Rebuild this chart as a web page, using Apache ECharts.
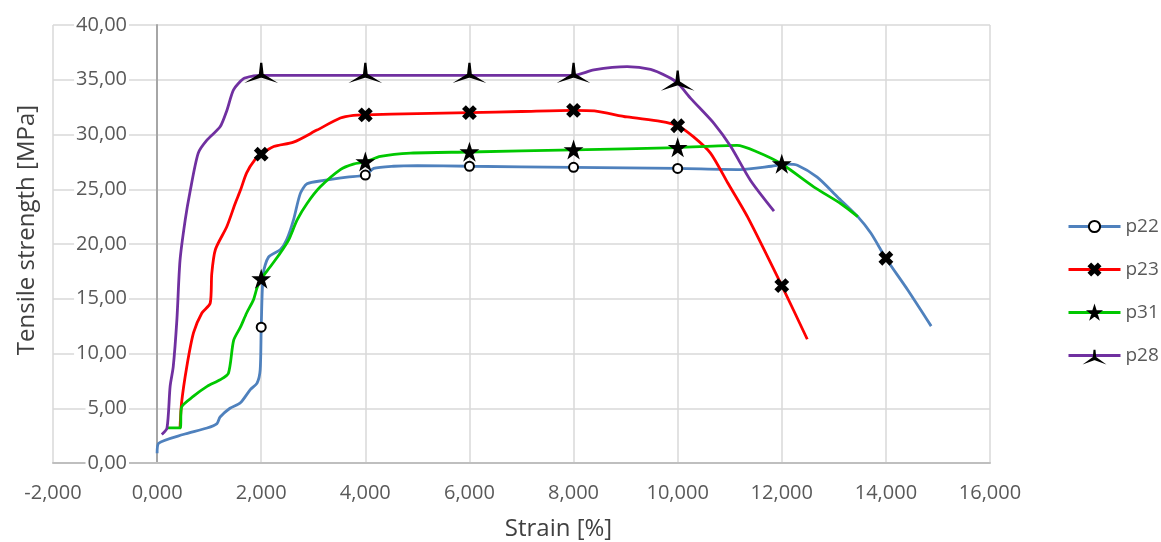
<!DOCTYPE html>
<html lang="en">
<head>
    <meta charset="UTF-8">
    <title>Tensile strength vs strain</title>
    <script src="https://cdn.jsdelivr.net/npm/echarts@6/dist/echarts.min.js"></script>
    <style>
        html, body {
            margin: 0;
            padding: 0;
            background: #ffffff;
        }
        #chart {
            width: 1161px;
            height: 542px;
        }
    </style>
</head>
<body>
<div id="chart"></div>
<script>
    // curves, strain [%] / tensile strength [MPa]
    var p22X = [0, 0.03, 0.5, 0.96, 1.15, 1.21, 1.4, 1.6, 1.79, 1.92, 1.98, 2.0, 2.04, 2.14, 2.37, 2.49, 2.62, 2.75, 2.88, 3.2, 3.65, 4.0, 4.16, 4.54, 5.0, 6.0, 8.0, 10.0, 11.2, 11.8, 12.1, 12.3, 12.68, 13.07, 13.46, 13.71, 14.0, 14.42, 14.87];
    var p22Y = [0.9, 1.8, 2.6, 3.2, 3.6, 4.2, 5.0, 5.5, 6.7, 7.3, 8.5, 12.4, 17.3, 18.8, 19.5, 20.4, 22.2, 24.6, 25.5, 25.8, 26.1, 26.3, 26.9, 27.1, 27.15, 27.1, 27.0, 26.9, 26.8, 27.1, 27.3, 27.2, 26.1, 24.3, 22.5, 21.0, 18.7, 15.8, 12.5];

    var p23X = [0.44, 0.47, 0.57, 0.7, 0.86, 1.02, 1.05, 1.12, 1.34, 1.5, 1.6, 1.72, 1.88, 2.0, 2.24, 2.62, 3.07, 3.52, 3.77, 4.0, 5.0, 6.0, 7.0, 8.0, 8.4, 9.03, 9.67, 10.0, 10.3, 10.63, 10.96, 11.34, 12.0, 12.49];
    var p23Y = [3.2, 5.5, 8.8, 11.9, 13.7, 14.6, 17.3, 19.5, 21.6, 23.7, 24.9, 26.5, 27.7, 28.2, 28.9, 29.3, 30.4, 31.5, 31.75, 31.8, 31.9, 32.0, 32.1, 32.2, 32.15, 31.6, 31.2, 30.8, 29.8, 28.3, 25.6, 22.5, 16.2, 11.3];

    var p31X = [0.19, 0.44, 0.47, 0.7, 0.96, 1.21, 1.37, 1.47, 1.6, 1.72, 1.85, 1.92, 2.0, 2.17, 2.37, 2.53, 2.69, 2.88, 3.13, 3.52, 3.77, 4.0, 4.29, 4.87, 6.0, 8.0, 10.0, 11.14, 11.53, 12.0, 12.62, 13.13, 13.46];
    var p31Y = [3.2, 3.2, 5.1, 6.1, 7.0, 7.6, 8.2, 11.2, 12.4, 13.7, 14.9, 16.0, 16.8, 17.9, 19.2, 20.4, 22.2, 23.7, 25.2, 26.8, 27.3, 27.5, 28.0, 28.3, 28.4, 28.6, 28.8, 29.0, 28.4, 27.3, 25.2, 23.7, 22.5];

    var p28X = [0.09, 0.19, 0.25, 0.31, 0.38, 0.44, 0.54, 0.63, 0.79, 0.96, 1.21, 1.34, 1.47, 1.66, 1.85, 2.0, 4.0, 6.0, 8.0, 8.39, 9.03, 9.48, 9.8, 10.0, 10.25, 10.7, 11.02, 11.4, 11.85];
    var p28Y = [2.6, 3.2, 7.0, 8.8, 13.1, 18.5, 22.2, 24.7, 28.3, 29.5, 30.7, 32.2, 34.1, 35.1, 35.35, 35.4, 35.4, 35.4, 35.4, 35.9, 36.2, 35.95, 35.3, 34.7, 33.3, 31.0, 28.9, 25.8, 23.0];

    // strain values that carry a marker
    var p22Marks = [2, 4, 6, 8, 10];
    var p22Cross = [14];
    var p23Marks = [2, 4, 6, 8, 10, 12];
    var p31Marks = [2, 4, 6, 8, 10, 12];
    var p28Marks = [2, 4, 6, 8, 10];

    var names = ['p22', 'p23', 'p31', 'p28'];
    var colors = ['#4f81bd', '#ff0000', '#00c800', '#7030a0'];

    var crossPath = 'path://M0,2 L2,0 L5,3 L8,0 L10,2 L7,5 L10,8 L8,10 L5,7 L2,10 L0,8 L3,5 Z';
    var starPath = 'path://M5,0 L6.2,3.6 L10,3.6 L6.9,5.9 L8.1,9.5 L5,7.3 L1.9,9.5 L3.1,5.9 L0,3.6 L3.8,3.6 Z';
    var triPath = 'path://M10,0 L11.3,11.5 L20,17 L10,13.8 L0,17 L8.7,11.5 Z';

    var font = '"Open Sans", "DejaVu Sans", sans-serif';

    function build(xs, ys, marks, extra) {
        var out = [];
        for (var i = 0; i < xs.length; i++) {
            var item = {value: [xs[i], ys[i]]};
            if (extra && extra.indexOf(xs[i]) >= 0) {
                item.symbol = crossPath;
                item.symbolSize = 12;
                item.symbolOffset = [0, 0];
            } else if (marks.indexOf(xs[i]) < 0) {
                item.symbol = 'none';
            }
            out.push(item);
        }
        return out;
    }

    function lineSeries(idx, data, symbol, size, offset) {
        return {
            name: names[idx],
            type: 'line',
            data: data,
            smooth: 0.25,
            symbol: symbol,
            symbolSize: size,
            symbolOffset: offset || [0, 0],
            showSymbol: true,
            showAllSymbol: true,
            lineStyle: {color: colors[idx], width: 2.8},
            itemStyle: {color: '#000000', borderColor: '#000000', borderWidth: 2},
            emphasis: {disabled: true},
            z: 2 + idx
        };
    }

    var chart = echarts.init(document.getElementById('chart'));
    var option = {
        backgroundColor: '#ffffff',
        animation: false,
        grid: {left: 53, right: 171, top: 25, bottom: 79, containLabel: false, outerBoundsMode: 'none'},
        legend: {
            orient: 'vertical',
            left: 1062,
            top: 212,
            itemWidth: 52,
            itemHeight: 14,
            itemGap: 24,
            data: names,
            lineStyle: {width: 3},
            textStyle: {fontFamily: font, fontSize: 19, color: '#595959'}
        },
        xAxis: {
            type: 'value',
            min: -2,
            max: 16,
            interval: 2,
            name: 'Strain [%]',
            nameLocation: 'middle',
            nameGap: 54,
            nameTextStyle: {fontFamily: font, fontSize: 24, color: '#404040', padding: [0, 0, 0, 74]},
            axisLine: {onZero: false, lineStyle: {color: '#bfbfbf', width: 2}},
            axisTick: {show: false},
            axisLabel: {
                margin: 20,
                fontFamily: font,
                fontSize: 20,
                color: '#595959',
                formatter: function (v) { return v.toFixed(3).replace('.', ','); }
            },
            splitLine: {show: true, lineStyle: {color: '#d9d9d9', width: 1.5}}
        },
        yAxis: {
            type: 'value',
            min: 0,
            max: 40,
            interval: 5,
            // axis sits at strain 0, two units right of the plot edge
            position: 'left',
            offset: -104,
            name: 'Tensile strength [MPa]',
            nameLocation: 'middle',
            nameGap: 118,
            nameTextStyle: {fontFamily: font, fontSize: 24, color: '#404040', padding: [0, 0, 0, 28]},
            axisLine: {show: true, onZero: false, lineStyle: {color: '#a6a6a6', width: 2}},
            axisTick: {show: false},
            axisLabel: {
                margin: 28,
                fontFamily: font,
                fontSize: 20,
                color: '#595959',
                backgroundColor: '#ffffff',
                padding: [0, 2],
                formatter: function (v) { return v.toFixed(2).replace('.', ','); }
            },
            splitLine: {show: true, lineStyle: {color: '#d9d9d9', width: 1.5}}
        },
        series: [
            lineSeries(0, build(p22X, p22Y, p22Marks, p22Cross), 'emptyCircle', 9),
            lineSeries(1, build(p23X, p23Y, p23Marks), crossPath, 12),
            lineSeries(2, build(p31X, p31Y, p31Marks), starPath, 14),
            lineSeries(3, build(p28X, p28Y, p28Marks), triPath, [20, 17], [0, -4])
        ]
    };
    chart.setOption(option);
</script>
</body>
</html>
